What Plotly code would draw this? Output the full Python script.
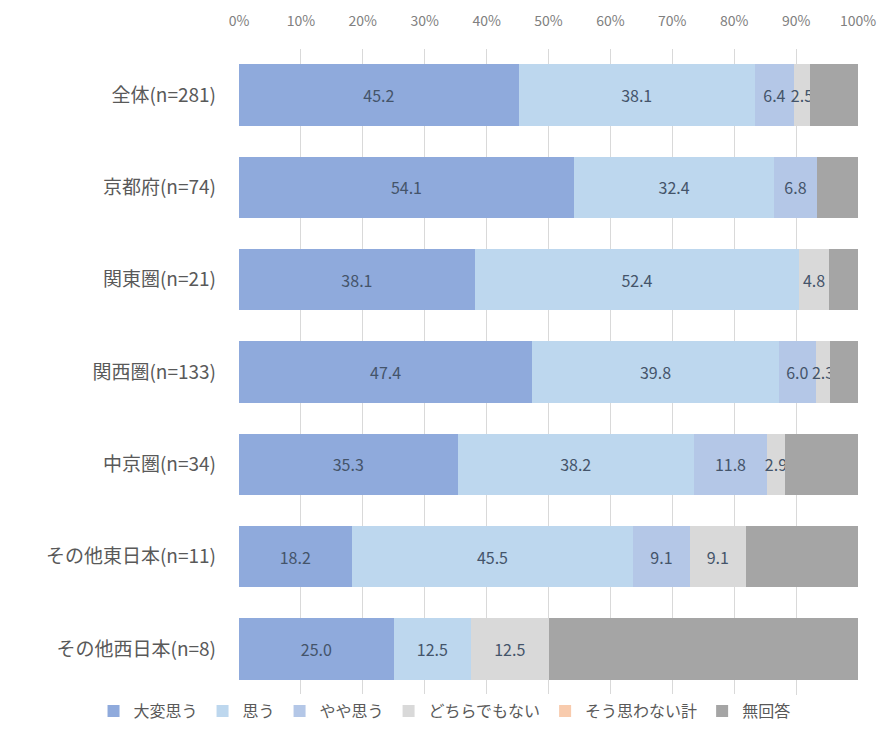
import plotly.graph_objects as go

# Survey regions (top to bottom) and response shares in percent
regions = ["全体(n=281)", "京都府(n=74)", "関東圏(n=21)", "関西圏(n=133)",
           "中京圏(n=34)", "その他東日本(n=11)", "その他西日本(n=8)"]

very_much = [45.2, 54.1, 38.1, 47.4, 35.3, 18.2, 25.0]
agree = [38.1, 32.4, 52.4, 39.8, 38.2, 45.5, 12.5]
somewhat = [6.4, 6.8, 0.0, 6.0, 11.8, 9.1, 0.0]
neutral = [2.5, 0.0, 4.8, 2.3, 2.9, 9.1, 12.5]
disagree = [0.0, 0.0, 0.0, 0.0, 0.0, 0.0, 0.0]
no_answer = [7.8, 6.7, 4.7, 4.5, 11.8, 18.1, 50.0]

series_names = ["大変思う", "思う", "やや思う", "どちらでもない", "そう思わない計", "無回答"]
series_values = [very_much, agree, somewhat, neutral, disagree, no_answer]
series_colors = ["#8FAADC", "#BDD7EE", "#B4C7E7", "#D9D9D9", "#F8CBAD", "#A5A5A5"]
labelled = [True, True, True, True, True, False]

tick_vals = [0, 10, 20, 30, 40, 50, 60, 70, 80, 90, 100]
tick_text = [f"{v}%" for v in tick_vals]

jp_font = "Noto Sans CJK JP, Noto Sans, sans-serif"

fig = go.Figure()
for name, vals, color, show_text in zip(series_names, series_values, series_colors, labelled):
    text = [f"{v:.1f}" if (show_text and v > 0) else "" for v in vals]
    fig.add_trace(go.Bar(
        y=regions, x=vals, name=name, orientation="h",
        marker=dict(color=color, line=dict(width=0)),
        text=text, textposition="inside", insidetextanchor="middle",
        textangle=0, constraintext="none",
        textfont=dict(family=jp_font, size=16, color="#44546A"),
        hoverinfo="name+x",
    ))

fig.update_layout(
    barmode="stack",
    bargap=0.335,
    width=883, height=748,
    margin=dict(l=239, r=25, t=49, b=53),
    paper_bgcolor="white", plot_bgcolor="white",
    font=dict(family=jp_font, color="#595959"),
    xaxis=dict(
        side="top", range=[0, 100], tickvals=tick_vals, ticktext=tick_text,
        showgrid=True, gridcolor="#D9D9D9", gridwidth=1,
        zeroline=False, showline=False, ticks="", automargin=False,
        ticklabelstandoff=19,
        tickfont=dict(family=jp_font, size=14, color="#808080"),
    ),
    yaxis=dict(
        autorange="reversed", showgrid=False, showline=False, ticks="",
        automargin=False, ticklabelstandoff=22,
        tickfont=dict(family=jp_font, size=19, color="#595959"),
    ),
    legend=dict(
        orientation="h", x=-0.235, xanchor="left",
        y=-0.025, yanchor="middle",
        font=dict(family=jp_font, size=16, color="#595959"),
        traceorder="normal", itemwidth=30, tracegroupgap=0,
    ),
)

fig.write_html("out.html")
